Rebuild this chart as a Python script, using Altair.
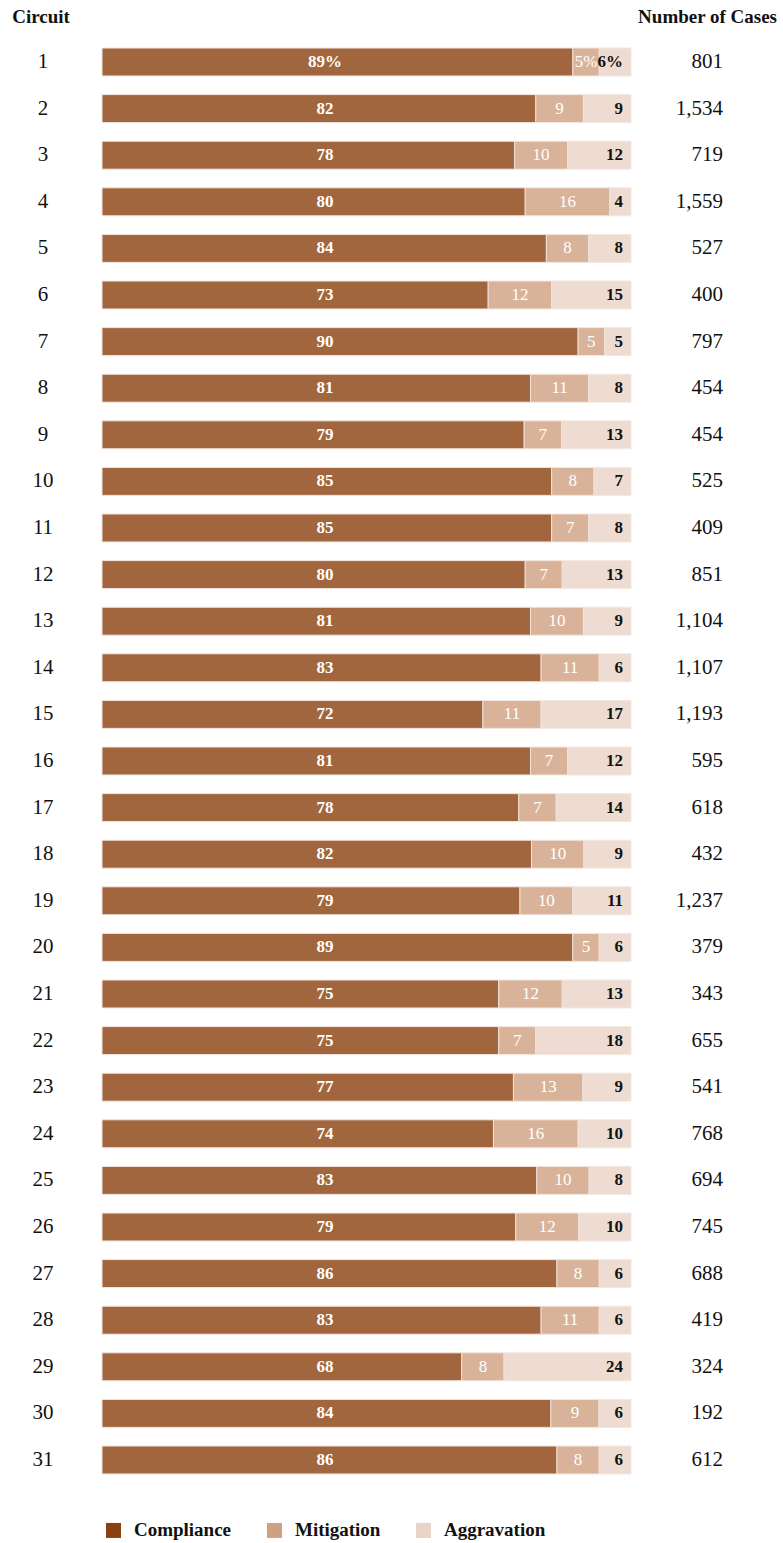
import altair as alt
import pandas as pd

circuits = list(range(1, 32))
compliance = [89, 82, 78, 80, 84, 73, 90, 81, 79, 85, 85, 80, 81, 83, 72, 81, 78, 82, 79, 89, 75, 75, 77, 74, 83, 79, 86, 83, 68, 84, 86]
mitigation = [5, 9, 10, 16, 8, 12, 5, 11, 7, 8, 7, 7, 10, 11, 11, 7, 7, 10, 10, 5, 12, 7, 13, 16, 10, 12, 8, 11, 8, 9, 8]
aggravation = [6, 9, 12, 4, 8, 15, 5, 8, 13, 7, 8, 13, 9, 6, 17, 12, 14, 9, 11, 6, 13, 18, 9, 10, 8, 10, 6, 6, 24, 6, 6]
cases = [801, 1534, 719, 1559, 527, 400, 797, 454, 454, 525, 409, 851, 1104, 1107, 1193, 595, 618, 432, 1237, 379, 343, 655, 541, 768, 694, 745, 688, 419, 324, 192, 612]
categories = ["Compliance", "Mitigation", "Aggravation"]
headers = ["Circuit", "Number of Cases"]

FONT = "Liberation Serif"
legend_colors = ["#8C400F", "#CFA181", "#EAD4C7"]

df = pd.DataFrame({
    "circuit": circuits,
    "Compliance": compliance,
    "Mitigation": mitigation,
    "Aggravation": aggravation,
    "cases": cases,
})

base = alt.Chart(df)
yenc = alt.Y("circuit:O", axis=None, scale=alt.Scale(paddingInner=0.4, paddingOuter=0.2))

bars = base.transform_fold(categories, as_=["category", "pct"]).transform_calculate(
    ord="indexof(['Compliance','Mitigation','Aggravation'], datum.category)"
).mark_bar(opacity=0.8, stroke="#F1E2D8", strokeWidth=1).encode(
    y=yenc,
    x=alt.X("pct:Q", stack="normalize", axis=None, scale=alt.Scale(domain=[0, 1], nice=False)),
    color=alt.Color(
        "category:N",
        scale=alt.Scale(domain=categories, range=legend_colors),
        legend=alt.Legend(
            title=None, orient="none", legendX=2, legendY=1482, direction="horizontal",
            symbolType="square", symbolSize=225, symbolStrokeWidth=0, symbolOpacity=1,
            labelFont=FONT, labelFontSize=19, labelFontWeight="bold", labelColor="#111111",
            columnPadding=33, labelOffset=11, padding=0,
        ),
    ),
    order=alt.Order("ord:Q"),
)

comp_text = base.transform_calculate(
    lbl="datum.circuit == 1 ? datum.Compliance + '%' : '' + datum.Compliance"
).mark_text(font=FONT, fontSize=17, fontWeight="bold", color="white", align="center", baseline="middle").encode(
    y=yenc, x=alt.value(223), text="lbl:N"
)

mit_text = base.transform_calculate(
    lbl="datum.circuit == 1 ? datum.Mitigation + '%' : '' + datum.Mitigation",
    mid="(datum.Compliance + datum.Mitigation / 2) / (datum.Compliance + datum.Mitigation + datum.Aggravation)",
).mark_text(font=FONT, fontSize=17, fontWeight="normal", color="white", align="center", baseline="middle").encode(
    y=yenc, x=alt.X("mid:Q", scale=alt.Scale(domain=[0, 1], nice=False), axis=None), text="lbl:N"
)

agg_text = base.transform_calculate(
    lbl="datum.circuit == 1 ? datum.Aggravation + '%' : '' + datum.Aggravation"
).mark_text(font=FONT, fontSize=17, fontWeight="bold", color="#111111", align="right", baseline="middle").encode(
    y=yenc, x=alt.value(521), text="lbl:N"
)

circ_text = base.mark_text(font=FONT, fontSize=21, color="#111111", align="center", baseline="middle").encode(
    y=yenc, x=alt.value(-59), text="circuit:N"
)

cases_text = base.mark_text(font=FONT, fontSize=21, color="#111111", align="right", baseline="middle").encode(
    y=yenc, x=alt.value(621), text=alt.Text("cases:Q", format=",")
)

hdf = pd.DataFrame({"h": headers})
h1 = alt.Chart(hdf).transform_filter("datum.h == 'Circuit'").mark_text(
    font=FONT, fontSize=19, fontWeight="bold", color="#111111", align="center", baseline="middle"
).encode(x=alt.value(-61), y=alt.value(-22), text="h:N")
h2 = alt.Chart(hdf).transform_filter("datum.h == 'Number of Cases'").mark_text(
    font=FONT, fontSize=19, fontWeight="bold", color="#111111", align="right", baseline="middle"
).encode(x=alt.value(675), y=alt.value(-22), text="h:N")

chart = alt.layer(bars, comp_text, mit_text, agg_text, circ_text, cases_text, h1, h2).properties(
    width=529,
    height=1444.6,
    autosize=alt.AutoSizeParams(type="none"),
    padding={"left": 102, "top": 38.7, "right": 152, "bottom": 60},
    background="white",
).configure_view(stroke=None)

chart.save("out.html", embed_options={"renderer": "svg", "actions": False})
